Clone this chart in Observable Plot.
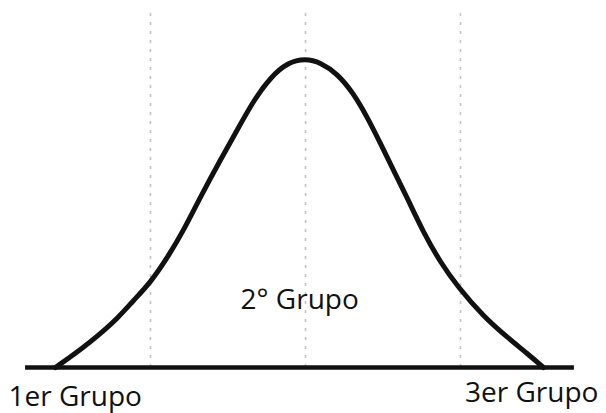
<!DOCTYPE html>
<html>
<head>
<meta charset="utf-8">
<script src="https://cdn.jsdelivr.net/npm/d3@7"></script>
<script src="https://cdn.jsdelivr.net/npm/@observablehq/plot@0.6"></script>
<style>
  html, body { margin: 0; padding: 0; background: #fff; }
  #chart svg { display: block; }
</style>
</head>
<body>
<div id="chart"></div>
<script>
// Bell curve: x in standard units (guides at -1, 0, 1), y as share of peak height
const curveX = [-1.613, -1.432, -1.323, -1.213, -1.110, -1.000, -0.890, -0.787, -0.677, -0.548, -0.439, -0.335, -0.226, -0.116, 0.000,
                 0.097, 0.206, 0.310, 0.400, 0.484, 0.568, 0.658, 0.761, 0.871, 0.981, 1.148, 1.303, 1.432, 1.535];
const curveY = [0.000, 0.065, 0.110, 0.159, 0.217, 0.275, 0.356, 0.443, 0.553, 0.673, 0.770, 0.864, 0.939, 0.987, 1.000,
                0.987, 0.951, 0.887, 0.809, 0.725, 0.638, 0.547, 0.437, 0.340, 0.262, 0.165, 0.097, 0.045, 0.000];

// Vertical dashed guides
const guideX = [-1, 0, 1];
const guideTop = 1.146;

// Baseline extent
const baseFrom = -1.806;
const baseTo = 1.735;

// Group labels
const labels = ["1er Grupo", "2° Grupo", "3er Grupo"];
const labelX = [-1.916, -0.419, 1.890];
const labelY = [-0.126, 0.188, -0.113];
const labelAnchor = ["start", "start", "end"];

const curve = curveX.map((x, i) => ({x, y: curveY[i]}));
const labelData = labels.map((t, i) => ({t, x: labelX[i], y: labelY[i], a: labelAnchor[i]}));

const W = 606, H = 413;
const chart = Plot.plot({
  width: W,
  height: H,
  margin: 0,
  x: {domain: [-305 / 155, 301 / 155], axis: null},
  y: {domain: [(367 - 413) / 309, 367 / 309], axis: null},
  style: {background: "#fff", fontFamily: "'Open Sans', sans-serif"},
  marks: [
    Plot.ruleX(guideX, {x: d => d, y1: 0, y2: guideTop, stroke: "#c4c4c4", strokeWidth: 1.6, strokeDasharray: "3,6"}),
    Plot.ruleY([0], {x1: baseFrom, x2: baseTo, stroke: "#111", strokeWidth: 4.5}),
    Plot.line(curve, {x: "x", y: "y", curve: "basis", stroke: "#111", strokeWidth: 5}),
    Plot.text(labelData.filter(d => d.a === "start"), {x: "x", y: "y", text: "t", textAnchor: "start", lineAnchor: "bottom", fontSize: 28, fontWeight: 500, fill: "#111"}),
    Plot.text(labelData.filter(d => d.a === "end"), {x: "x", y: "y", text: "t", textAnchor: "end", lineAnchor: "bottom", fontSize: 28, fontWeight: 500, fill: "#111"})
  ]
});
document.getElementById("chart").appendChild(chart);
</script>
</body>
</html>
